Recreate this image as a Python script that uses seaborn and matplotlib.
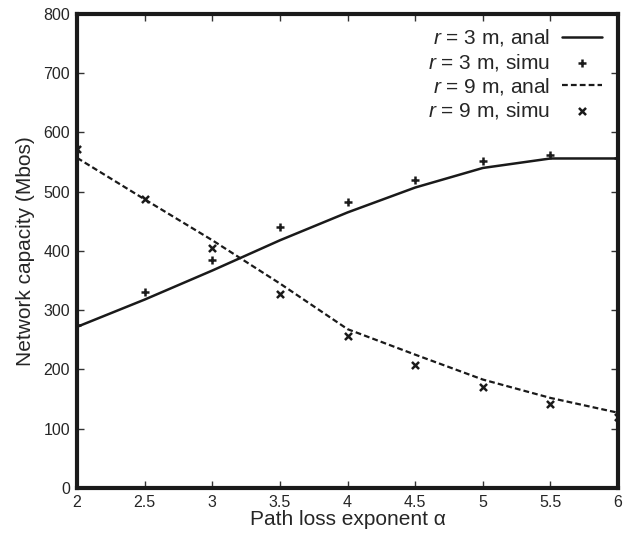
import numpy as np
import pandas as pd
import matplotlib
matplotlib.use("Agg")
import matplotlib.pyplot as plt
import seaborn as sns

# Path loss exponent values
alpha = [2, 2.5, 3, 3.5, 4, 4.5, 5, 5.5, 6]

# Network capacity (Mbps) for r = 3 m
r3_anal = [272, 318, 367, 418, 465, 507, 540, 556, 556]
r3_simu = [275, 330, 385, 440, 482, 520, 551, 562, 557]

# Network capacity (Mbps) for r = 9 m
r9_anal = [557, 487, 418, 345, 268, 225, 183, 152, 127]
r9_simu = [572, 487, 405, 327, 256, 208, 170, 142, 120]

x_ticks = [2, 2.5, 3, 3.5, 4, 4.5, 5, 5.5, 6]
x_tick_labels = ["2", "2.5", "3", "3.5", "4", "4.5", "5", "5.5", "6"]
y_ticks = [0, 100, 200, 300, 400, 500, 600, 700, 800]

sns.set_style("ticks")
plt.rcParams["font.family"] = ["Liberation Sans", "DejaVu Sans"]
plt.rcParams["mathtext.fontset"] = "custom"
plt.rcParams["mathtext.it"] = "Liberation Sans:italic"
plt.rcParams["mathtext.rm"] = "Liberation Sans"

df = pd.DataFrame({
    "alpha": alpha,
    "r3_anal": r3_anal, "r3_simu": r3_simu,
    "r9_anal": r9_anal, "r9_simu": r9_simu,
})

fig = plt.figure(figsize=(6.32, 5.37), dpi=100)
ax = fig.add_axes([0.122, 0.0912, 0.856, 0.883])

sns.lineplot(data=df, x="alpha", y="r3_anal", ax=ax, color="#1a1a1a",
             linewidth=1.8, label=r"$r$ = 3 m, anal")
sns.scatterplot(data=df, x="alpha", y="r3_simu", ax=ax, marker="+",
                color="#1a1a1a", s=26, linewidth=1.8, label=r"$r$ = 3 m, simu",
                zorder=3)
sns.lineplot(data=df, x="alpha", y="r9_anal", ax=ax, color="#1a1a1a",
             linewidth=1.6, linestyle=(0, (2.6, 1.4)), label=r"$r$ = 9 m, anal")
sns.scatterplot(data=df, x="alpha", y="r9_simu", ax=ax, marker="x",
                color="#1a1a1a", s=26, linewidth=1.8, label=r"$r$ = 9 m, simu",
                zorder=3)

ax.set_xlim(2, 6)
ax.set_ylim(0, 800)
ax.set_xticks(x_ticks)
ax.set_xticklabels(x_tick_labels)
ax.set_yticks(y_ticks)
ax.tick_params(direction="in", length=5, width=1, labelsize=11.5,
               top=True, right=True, color="#333333", pad=5)
for s in ax.spines.values():
    s.set_linewidth(3)
    s.set_color("#1a1a1a")

ax.set_xlabel("Path loss exponent \u03b1", fontsize=15, labelpad=0)
ax.set_ylabel("Network capacity (Mbos)", fontsize=15, labelpad=6)

leg = ax.legend(loc="upper right", frameon=False, markerfirst=False,
                fontsize=15, handlelength=1.9, labelspacing=0.16,
                borderaxespad=0.25, handletextpad=0.6,
                bbox_to_anchor=(0.995, 1.0))

fig.savefig("out.png", dpi=100)
